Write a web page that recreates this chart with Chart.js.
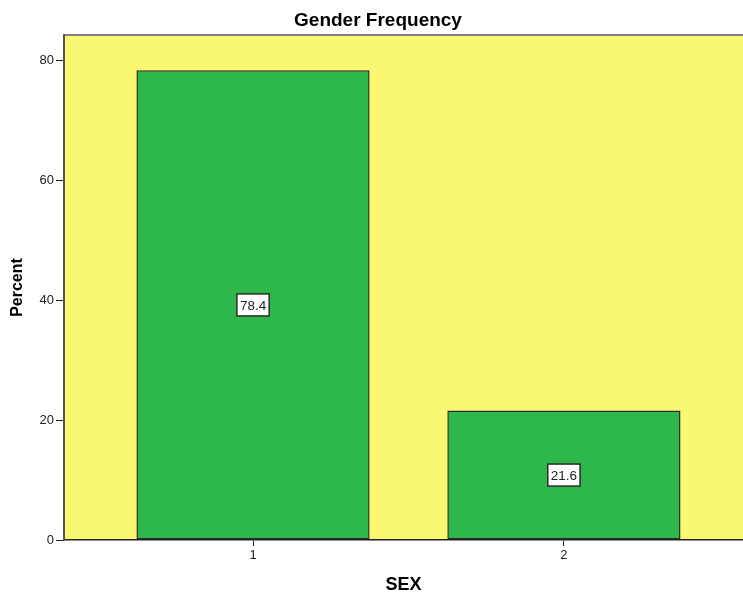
<!DOCTYPE html>
<html>
<head>
<meta charset="utf-8">
<title>Gender Frequency</title>
<script src="https://cdn.jsdelivr.net/npm/chart.js@4.4.1/dist/chart.umd.min.js"></script>
<style>
  html, body { margin: 0; padding: 0; background: #ffffff; }
  #wrap { position: relative; width: 743px; height: 597px; }
</style>
</head>
<body>
<div id="wrap"><canvas id="chart" width="743" height="597"></canvas></div>
<script>
// SEX codes and the share of respondents in each, in percent
const categories = [1, 2];
const percentValues = [78.4, 21.6];
const yTickValues = [0, 20, 40, 60, 80];

const FONT = "'Liberation Sans', Arial, Helvetica, sans-serif";
const PLOT_BG = '#FAF873';
const BAR_FILL = '#2EB84B';
const INK = '#222222';

// Yellow plot background plus the grey frame line along the top
const plotFrame = {
  id: 'plotFrame',
  beforeDraw(chart) {
    const { ctx, chartArea: a } = chart;
    ctx.save();
    ctx.fillStyle = PLOT_BG;
    ctx.fillRect(a.left, a.top, a.right - a.left, a.bottom - a.top);
    ctx.strokeStyle = '#808080';
    ctx.lineWidth = 2;
    ctx.beginPath();
    ctx.moveTo(a.left, a.top);
    ctx.lineTo(a.right, a.top);
    ctx.stroke();
    ctx.restore();
  }
};

// Chart heading
const heading = {
  id: 'heading',
  afterDraw(chart) {
    const { ctx } = chart;
    ctx.save();
    ctx.font = 'bold 19px ' + FONT;
    ctx.fillStyle = '#000';
    ctx.textAlign = 'center';
    ctx.textBaseline = 'middle';
    ctx.fillText('Gender Frequency', 378, 21);
    ctx.restore();
  }
};

// Boxed value label in the middle of each bar
const valueBoxes = {
  id: 'valueBoxes',
  afterDatasetsDraw(chart) {
    const { ctx } = chart;
    const meta = chart.getDatasetMeta(0);
    ctx.save();
    ctx.font = '13.5px ' + FONT;
    ctx.textAlign = 'center';
    ctx.textBaseline = 'middle';
    meta.data.forEach((bar, i) => {
      const text = percentValues[i].toFixed(1);
      const cx = bar.x;
      const cy = (bar.y + bar.base) / 2;
      const w = ctx.measureText(text).width + 6;
      const h = 22;
      ctx.fillStyle = '#ffffff';
      ctx.fillRect(cx - w / 2, cy - h / 2, w, h);
      ctx.strokeStyle = '#2b2b2b';
      ctx.lineWidth = 1.5;
      ctx.strokeRect(cx - w / 2, cy - h / 2, w, h);
      ctx.fillStyle = INK;
      ctx.fillText(text, cx, cy + 1);
    });
    ctx.restore();
  }
};

new Chart(document.getElementById('chart'), {
  type: 'bar',
  data: {
    datasets: [{
      label: 'Percent',
      data: categories.map((c, i) => ({ x: c, y: percentValues[i] })),
      backgroundColor: BAR_FILL,
      borderColor: '#2a2a2a',
      borderWidth: 1.5,
      borderSkipped: false,
      barPercentage: 0.75,
      categoryPercentage: 1
    }]
  },
  options: {
    responsive: false,
    animation: false,
    events: [],
    layout: { padding: { top: 35, right: 0, left: 0, bottom: 0 } },
    plugins: {
      legend: { display: false },
      title: { display: false },
      tooltip: { enabled: false }
    },
    scales: {
      x: {
        type: 'linear',
        offset: false,
        min: 0.392,
        max: 2.576,
        afterFit(scale) { scale.height = 57; },
        afterBuildTicks(scale) { scale.ticks = categories.map(v => ({ value: v })); },
        grid: {
          display: true,
          offset: false,
          drawOnChartArea: false,
          color: 'transparent',
          tickColor: INK,
          tickLength: 6,
          tickWidth: 1
        },
        border: { display: true, color: INK, width: 1.5 },
        ticks: {
          color: INK,
          font: { family: FONT, size: 13 },
          padding: 2,
          callback: v => String(v)
        },
        title: {
          display: true,
          text: 'SEX',
          color: '#000',
          font: { family: FONT, size: 18, weight: 'bold' },
          padding: { top: 0, bottom: 1 }
        }
      },
      y: {
        type: 'linear',
        min: 0,
        max: 84.3,
        afterFit(scale) { scale.width = 64; },
        afterBuildTicks(scale) { scale.ticks = yTickValues.map(v => ({ value: v })); },
        grid: {
          display: true,
          drawOnChartArea: false,
          color: 'transparent',
          tickColor: INK,
          tickLength: 8,
          tickWidth: 1
        },
        border: { display: true, color: '#555555', width: 2 },
        ticks: {
          color: INK,
          font: { family: FONT, size: 13 },
          padding: 2
        },
        title: {
          display: true,
          text: 'Percent',
          color: '#000',
          font: { family: FONT, size: 16, weight: 'bold' },
          padding: { top: 8, bottom: 0 }
        }
      }
    }
  },
  plugins: [plotFrame, heading, valueBoxes]
});
</script>
</body>
</html>
